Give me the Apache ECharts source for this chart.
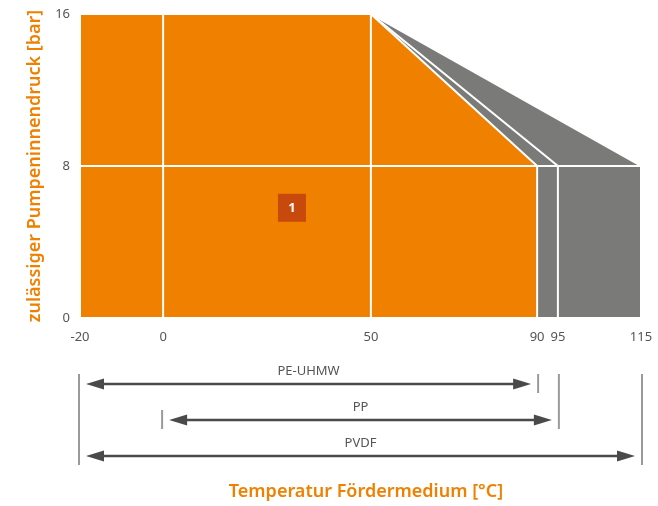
<!DOCTYPE html>
<html><head><meta charset="utf-8">
<script src="https://cdn.jsdelivr.net/npm/echarts@6/dist/echarts.min.js"></script>
<style>html,body{margin:0;padding:0;background:#fff}#c{width:658px;height:506px}</style>
</head><body><div id="c"></div>
<script>
// ---- data ----
const xTicks = [-20, 0, 50, 90, 95, 115];
const yTicks = [0, 8, 16];
const materials = ['PE-UHMW', 'PP', 'PVDF'];
const minTemp = [-20, 0, -20];
const maxTemp = [90, 95, 115];
const kneeTemp = 50;      // temperature up to which full pressure applies
const maxPressure = 16;   // bar
const endPressure = 8;    // bar at max temperature
const gridTempLines = [0, 50];
const gridPressLines = [8];
const zoneNames = ['1'];
const zoneTemp = [31];
const zonePress = [5.8];

const ORANGE = '#f08000', GREY = '#7a7a78', FONT = '"Noto Sans", "Open Sans", sans-serif';

const chart = echarts.init(document.getElementById('c'));
const drawOrder = [2, 1, 0];

chart.setOption({
  animation: false,
  grid: [
    {left: 80, right: 17, top: 14, bottom: 188},
    {left: 80, right: 17, top: 366, height: 108}
  ],
  xAxis: [
    {type: 'value', min: -20, max: 115, gridIndex: 0,
      axisLine: {show: false}, axisTick: {show: false}, splitLine: {show: false},
      axisLabel: {customValues: xTicks, color: '#555', fontFamily: FONT, fontSize: 13, margin: 13}},
    {type: 'value', min: -20, max: 115, gridIndex: 1, show: false}
  ],
  yAxis: [
    {type: 'value', min: 0, max: 16, gridIndex: 0,
      axisLine: {show: false}, axisTick: {show: false}, splitLine: {show: false},
      axisLabel: {customValues: yTicks, color: '#555', fontFamily: FONT, fontSize: 13, margin: 10},
      name: 'zulässiger Pumpeninnendruck [bar]', nameLocation: 'middle', nameGap: 33,
      nameTextStyle: {color: ORANGE, fontFamily: FONT, fontSize: 18, fontWeight: 600}},
    {type: 'category', data: materials, inverse: true, gridIndex: 1, show: false}
  ],
  title: {text: 'Temperatur Fördermedium [°C]', left: 361, textAlign: 'center', top: 478,
    textStyle: {color: ORANGE, fontFamily: FONT, fontSize: 18, fontWeight: 600}},
  series: [
    {
      type: 'custom', xAxisIndex: 0, yAxisIndex: 0, z: 2,
      data: drawOrder.map(i => [i]),
      renderItem(params, api) {
        const i = api.value(0);
        const pts = [
          [minTemp[i], 0], [minTemp[i], maxPressure], [kneeTemp, maxPressure],
          [maxTemp[i], endPressure], [maxTemp[i], 0]
        ].map(p => api.coord(p));
        return {type: 'polygon', shape: {points: pts},
          style: {fill: i === 0 ? ORANGE : GREY, stroke: '#fff', lineWidth: 2}};
      }
    },
    {
      type: 'custom', xAxisIndex: 0, yAxisIndex: 0, z: 3,
      data: [[0]],
      renderItem(params, api) {
        const ch = [];
        gridTempLines.forEach(t => {
          const a = api.coord([t, 0]), b = api.coord([t, maxPressure]);
          ch.push({type: 'line', shape: {x1: a[0], y1: a[1], x2: b[0], y2: b[1]}, style: {stroke: '#fff', lineWidth: 2}});
        });
        gridPressLines.forEach(p => {
          const a = api.coord([-20, p]), b = api.coord([115, p]);
          ch.push({type: 'line', shape: {x1: a[0], y1: a[1], x2: b[0], y2: b[1]}, style: {stroke: '#fff', lineWidth: 2}});
        });
        return {type: 'group', children: ch};
      }
    },
    {
      type: 'scatter', xAxisIndex: 0, yAxisIndex: 0, z: 4,
      data: zoneNames.map((n, k) => [zoneTemp[k], zonePress[k], n]),
      symbol: 'rect', symbolSize: 28,
      itemStyle: {color: '#c8490c', opacity: 1},
      label: {show: true, position: 'inside', formatter: p => p.value[2], color: '#fff',
        fontFamily: FONT, fontSize: 13, fontWeight: 'bold'}
    },
    {
      type: 'custom', xAxisIndex: 1, yAxisIndex: 1, z: 2,
      data: materials.map((m, i) => [minTemp[i], i, maxTemp[i]]),
      renderItem(params, api) {
        const i = params.dataIndex;
        const y = api.coord([0, i])[1];
        const x1 = api.coord([minTemp[i], i])[0], x2 = api.coord([maxTemp[i], i])[0];
        const rowTop = j => api.coord([0, j])[1] - 10;
        const barTop = t => {
          let top = rowTop(i);
          for (let j = i - 1; j >= 0; j--) {
            if (t > minTemp[j] && t < maxTemp[j]) break;
            top = rowTop(j);
          }
          return top;
        };
        const gap = 7, head = 18, hw = 5.5, col = '#4a4a4a';
        const lx = x1 - 1, rx = x2 + 1;
        return {type: 'group', children: [
          {type: 'line', shape: {x1: lx, y1: barTop(minTemp[i]), x2: lx, y2: y + 9}, style: {stroke: '#9a9a9a', lineWidth: 2}},
          {type: 'line', shape: {x1: rx, y1: barTop(maxTemp[i]), x2: rx, y2: y + 9}, style: {stroke: '#9a9a9a', lineWidth: 2}},
          {type: 'line', shape: {x1: lx + gap + head - 2, y1: y, x2: rx - gap - head + 2, y2: y}, style: {stroke: col, lineWidth: 2.5}},
          {type: 'polygon', shape: {points: [[lx + gap, y], [lx + gap + head, y - hw], [lx + gap + head, y + hw]]}, style: {fill: col}},
          {type: 'polygon', shape: {points: [[rx - gap, y], [rx - gap - head, y - hw], [rx - gap - head, y + hw]]}, style: {fill: col}},
          {type: 'text', x: (lx + rx) / 2, y: y - 13, style: {text: materials[i], fill: '#555', font: '13px ' + FONT, align: 'center', verticalAlign: 'middle'}}
        ]};
      }
    }
  ]
});
</script></body></html>
